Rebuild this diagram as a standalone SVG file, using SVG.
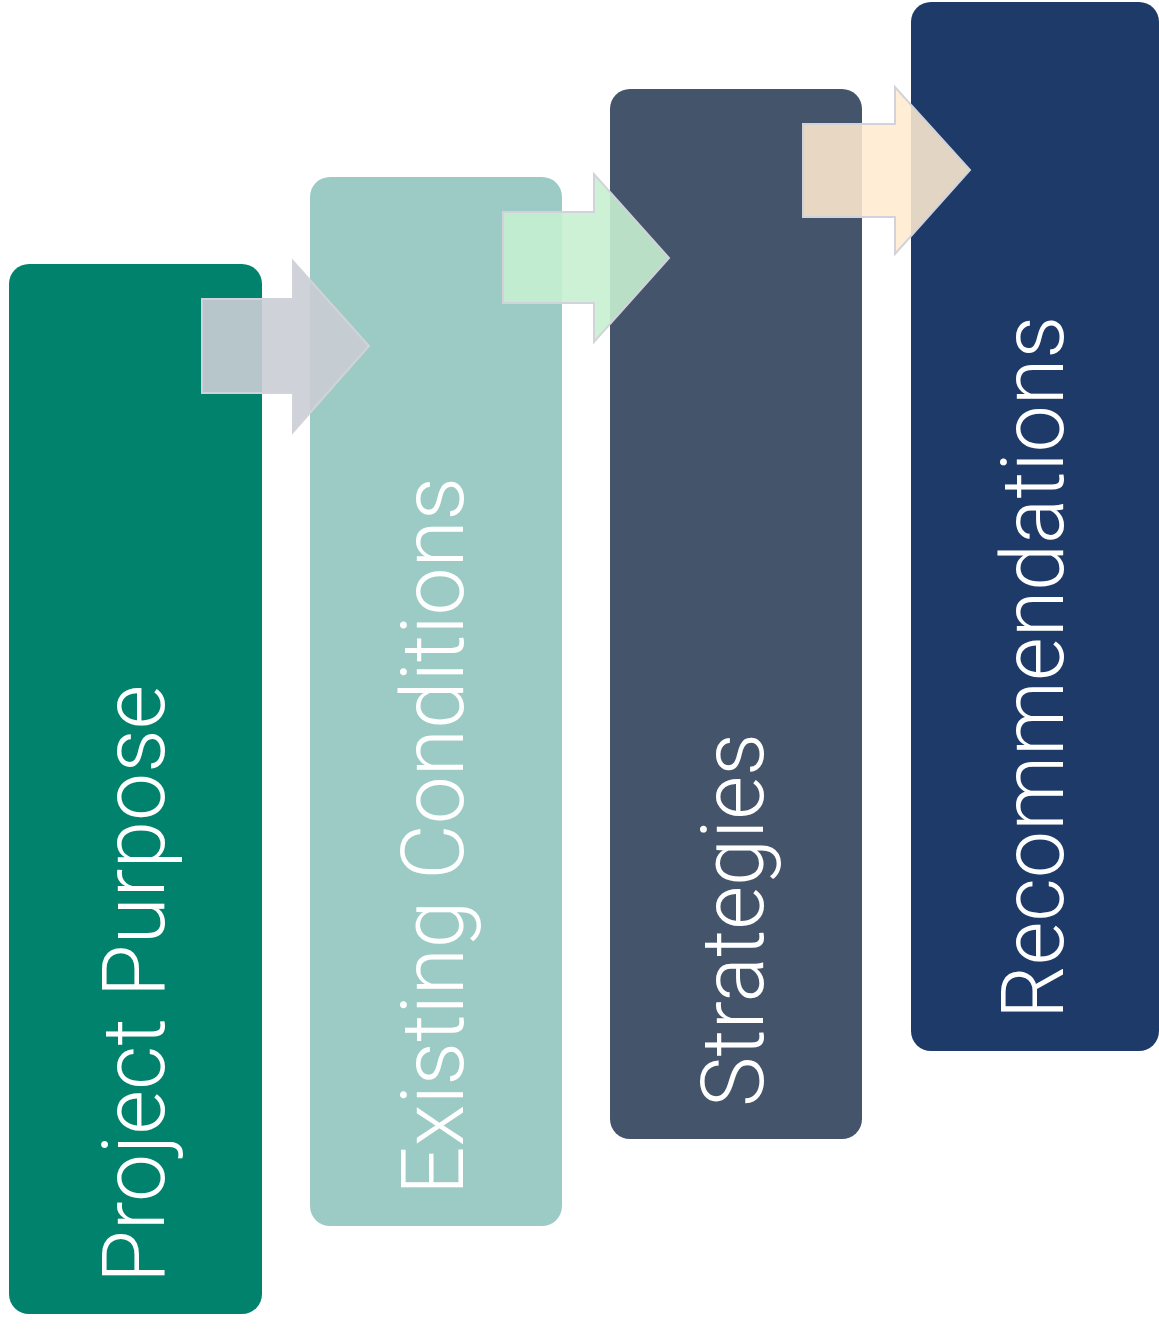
<svg xmlns="http://www.w3.org/2000/svg" width="1159" height="1331" viewBox="0 0 1159 1331">
<style>
.lbl{font-family:Roboto,"Liberation Sans",sans-serif;font-weight:300;font-size:88px;fill:#FFFFFF}
.arrow{stroke:#D2D3DA;stroke-width:2;stroke-linejoin:miter}
</style>
<rect width="1159" height="1331" fill="#FFFFFF"/>
<g id="node-project-purpose">
<rect x="9" y="264" width="253" height="1050" rx="20" fill="#00826D"/>
<text class="lbl" transform="translate(164,1283) rotate(-90)" x="0" y="0" textLength="598" lengthAdjust="spacingAndGlyphs">Project Purpose</text>
</g>
<g id="node-existing-conditions">
<rect x="310" y="177" width="252" height="1049" rx="20" fill="#9BCBC4"/>
<text class="lbl" transform="translate(463,1195) rotate(-90)" x="0" y="0" textLength="718" lengthAdjust="spacingAndGlyphs">Existing Conditions</text>
</g>
<g id="node-strategies">
<rect x="610" y="89" width="252" height="1050" rx="20" fill="#44546A"/>
<text class="lbl" transform="translate(763,1107) rotate(-90)" x="0" y="0" textLength="374" lengthAdjust="spacingAndGlyphs">Strategies</text>
</g>
<g id="node-recommendations">
<rect x="911" y="2" width="248" height="1049" rx="20" fill="#1D3A68"/>
<text class="lbl" transform="translate(1063,1019) rotate(-90)" x="0" y="0" textLength="703" lengthAdjust="spacingAndGlyphs">Recommendations</text>
</g>
<g id="connectors">
<path class="arrow" d="M202,299 H293 V261 L369,346 L293,432 V393 H202 Z" fill="#CACDD4" fill-opacity="0.9"/>
<path class="arrow" d="M503,212 H594 V174 L669,258 L594,342 V303 H503 Z" fill="#C6EFD0" fill-opacity="0.9"/>
<path class="arrow" d="M803,124 H895 V87 L970,170 L895,254 V217 H803 Z" fill="#FFEBCF" fill-opacity="0.88"/>
</g>
</svg>
